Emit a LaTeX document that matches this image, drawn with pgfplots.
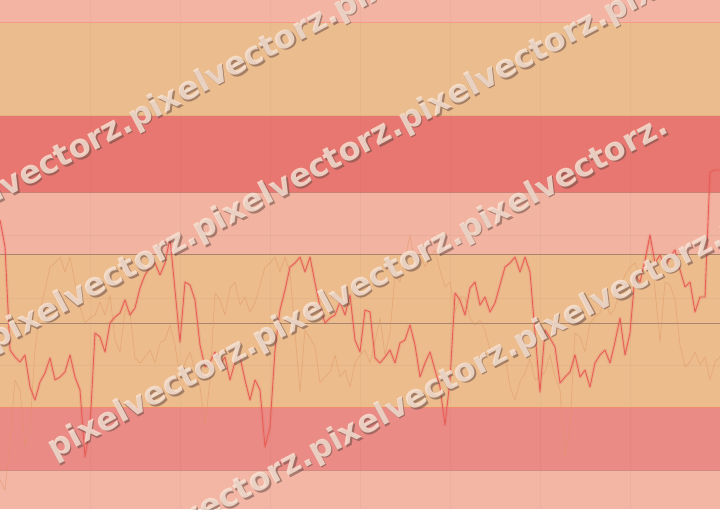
\documentclass[border=0pt]{standalone}
\usepackage{pgfplots}
\pgfplotsset{compat=1.18}
\usepackage{pgfplotstable}
\usepgfplotslibrary{fillbetween}
\usetikzlibrary{calc}
\usepackage{fontspec}
\newfontfamily\wmfont{DejaVu Sans}

\definecolor{salm}{HTML}{F3B4A3}
\definecolor{tanA}{HTML}{EBBD8E}
\definecolor{redband}{HTML}{E77770}
\definecolor{salmB}{HTML}{F2B3A0}
\definecolor{tanB}{HTML}{ECBC8D}
\definecolor{pinkband}{HTML}{EA8B86}
\definecolor{salmC}{HTML}{F3B5A4}
\definecolor{redline}{HTML}{E85F58}
\definecolor{orangeline}{HTML}{E0955F}
\definecolor{brownline}{HTML}{A8866E}
\definecolor{wmcream}{HTML}{F8E4D6}
\definecolor{wmshadow}{HTML}{6A4C44}

\pgfplotstableread{
x y
0 220
5 247
10 350
15 357
20 362
25 355
30 387
35 400
40 382
45 373
50 358
55 380
60 377
65 372
70 355
75 377
80 390
85 457
90 427
95 333
100 337
105 352
110 323
115 317
120 313
125 300
130 315
135 308
140 288
145 275
150 267
155 263
160 275
165 263
170 238
175 290
180 342
185 282
190 285
195 300
200 345
205 367
210 362
215 352
220 365
225 357
230 380
235 362
240 357
245 380
250 400
255 380
260 390
265 447
270 427
275 350
280 310
285 290
290 267
295 263
300 257
305 272
310 257
315 283
320 307
325 323
330 318
335 315
340 302
345 315
350 295
355 340
360 352
365 310
370 312
375 358
380 363
385 357
390 350
395 363
400 343
405 340
410 325
415 345
420 377
425 363
430 352
435 370
440 387
445 425
450 380
455 293
460 300
465 315
470 288
475 282
480 305
485 297
490 312
495 303
500 285
505 267
510 263
515 257
520 272
525 257
530 272
535 333
540 392
545 330
550 338
555 347
560 383
565 377
570 372
575 355
580 377
585 370
590 387
595 363
600 355
605 350
610 363
615 342
620 318
625 355
630 333
635 275
640 282
645 260
650 235
655 263
660 255
665 267
670 257
675 250
680 270
685 287
690 282
695 312
700 297
705 297
710 172
715 170
720 170
}\redtab

\pgfplotstableread{
x y
0 480
5 490
10 443
15 380
20 390
25 447
30 427
35 350
40 310
45 290
50 267
55 263
60 257
65 272
70 257
75 283
80 307
85 323
90 318
95 315
100 302
105 315
110 295
115 340
120 352
125 310
130 312
135 358
140 363
145 357
150 350
155 363
160 343
165 340
170 325
175 345
180 377
185 363
190 352
195 370
200 387
205 425
210 380
215 293
220 300
225 315
230 288
235 282
240 305
245 297
250 312
255 303
260 285
265 267
270 263
275 257
280 272
285 257
290 272
295 333
300 392
305 330
310 338
315 347
320 383
325 377
330 372
335 355
340 377
345 370
350 387
355 363
360 355
365 350
370 363
375 342
380 318
385 355
390 333
395 275
400 282
405 260
410 235
415 263
420 255
425 267
430 257
435 250
440 270
445 287
450 282
455 312
460 297
465 297
470 318
475 325
480 320
485 330
490 350
495 357
500 362
505 355
510 387
515 400
520 382
525 373
530 358
535 380
540 377
545 372
550 355
555 377
560 390
565 457
570 427
575 333
580 337
585 352
590 323
595 317
600 313
605 300
610 315
615 308
620 288
625 275
630 267
635 263
640 275
645 263
650 238
655 290
660 342
665 282
670 285
675 300
680 345
685 367
690 362
695 352
700 365
705 357
710 380
715 362
720 357
}\orangetab

\def\pv{pixelvectorz.}
\newcommand\wmrow[3]{%
  \node[overlay, anchor=west, rotate=28, inner sep=0pt, text=wmshadow, opacity=0.55,
        font=\wmfont\bfseries\fontsize{32}{32}\selectfont]
        at ($(axis cs:#1,#2)+(1.6pt,-1.6pt)$) {#3};
  \node[overlay, anchor=west, rotate=28, inner sep=0pt, text=wmcream, opacity=0.82,
        font=\wmfont\bfseries\fontsize{32}{32}\selectfont]
        at (axis cs:#1,#2) {#3};
}

\begin{document}
\begin{tikzpicture}
\begin{axis}[at={(0,0)}, anchor=south west,
  width=720pt, height=509pt, scale only axis,
  xmin=0, xmax=720, ymin=0, ymax=509, y dir=reverse,
  hide axis, clip=true]
% bands
\addplot[draw=none, fill=salm] coordinates {(0,0) (720,0) (720,22) (0,22)} -- cycle;
\addplot[draw=none, fill=tanA] coordinates {(0,22) (720,22) (720,115) (0,115)} -- cycle;
\addplot[draw=none, fill=redband] coordinates {(0,115) (720,115) (720,192) (0,192)} -- cycle;
\addplot[draw=none, fill=salmB] coordinates {(0,192) (720,192) (720,254) (0,254)} -- cycle;
\addplot[draw=none, fill=tanB] coordinates {(0,254) (720,254) (720,407) (0,407)} -- cycle;
\addplot[draw=none, fill=pinkband] coordinates {(0,407) (720,407) (720,470) (0,470)} -- cycle;
\addplot[draw=none, fill=salmC] coordinates {(0,470) (720,470) (720,509) (0,509)} -- cycle;
% faint grid
\addplot[black, opacity=0.025, line width=0.8pt] coordinates {(90,0) (90,509)};
\addplot[black, opacity=0.025, line width=0.8pt] coordinates {(180,0) (180,509)};
\addplot[black, opacity=0.025, line width=0.8pt] coordinates {(270,0) (270,509)};
\addplot[black, opacity=0.025, line width=0.8pt] coordinates {(360,0) (360,509)};
\addplot[black, opacity=0.025, line width=0.8pt] coordinates {(450,0) (450,509)};
\addplot[black, opacity=0.025, line width=0.8pt] coordinates {(540,0) (540,509)};
\addplot[black, opacity=0.025, line width=0.8pt] coordinates {(630,0) (630,509)};
\addplot[black, opacity=0.035, line width=0.8pt] coordinates {(0,235) (720,235)};
\addplot[black, opacity=0.035, line width=0.8pt] coordinates {(0,298) (720,298)};
\addplot[black, opacity=0.035, line width=0.8pt] coordinates {(0,365) (720,365)};
% band edges
\addplot[color=salm!85!red, line width=0.6pt] coordinates {(0,22) (720,22)};
\addplot[color=tanA!80!brown, line width=0.6pt] coordinates {(0,115) (720,115)};
\addplot[color=redband!80!black, opacity=0.6, line width=0.6pt] coordinates {(0,192) (720,192)};
\addplot[color=brownline, line width=0.8pt] coordinates {(0,254) (720,254)};
\addplot[color=brownline, line width=0.8pt] coordinates {(0,323) (720,323)};
\addplot[color=tanB!75!red, line width=0.6pt] coordinates {(0,407) (720,407)};
\addplot[color=pinkband!80!black, opacity=0.6, line width=0.6pt] coordinates {(0,470) (720,470)};
% orange faint line
\addplot[orangeline, opacity=0.45, line width=0.8pt, line join=round] table {\orangetab};
% red fill above baseline
\addplot[draw=none, name path=redp, forget plot] table {\redtab};
\addplot[draw=none, name path=basep, forget plot] coordinates {(0,323) (720,323)};
\addplot[redline, fill opacity=0.14] fill between[of=redp and basep,
   soft clip={(axis cs:0,0) rectangle (axis cs:720,323)}];
% red line with glow
\addplot[redline, opacity=0.18, line width=3.2pt, line join=round] table {\redtab};
\addplot[redline, line width=0.9pt, line join=round] table {\redtab};
% watermark
\wmrow{-280}{340}{\pv\pv\pv\pv}
\wmrow{-10}{343}{\pv\pv\pv\pv}
\wmrow{50}{452}{\pv\pv\pv}
\wmrow{-100}{673}{\pv\pv\pv\pv\pv}
\end{axis}
\pgfresetboundingbox
\path[use as bounding box] (current axis.south west) rectangle (current axis.north east);
\end{tikzpicture}
\end{document}
